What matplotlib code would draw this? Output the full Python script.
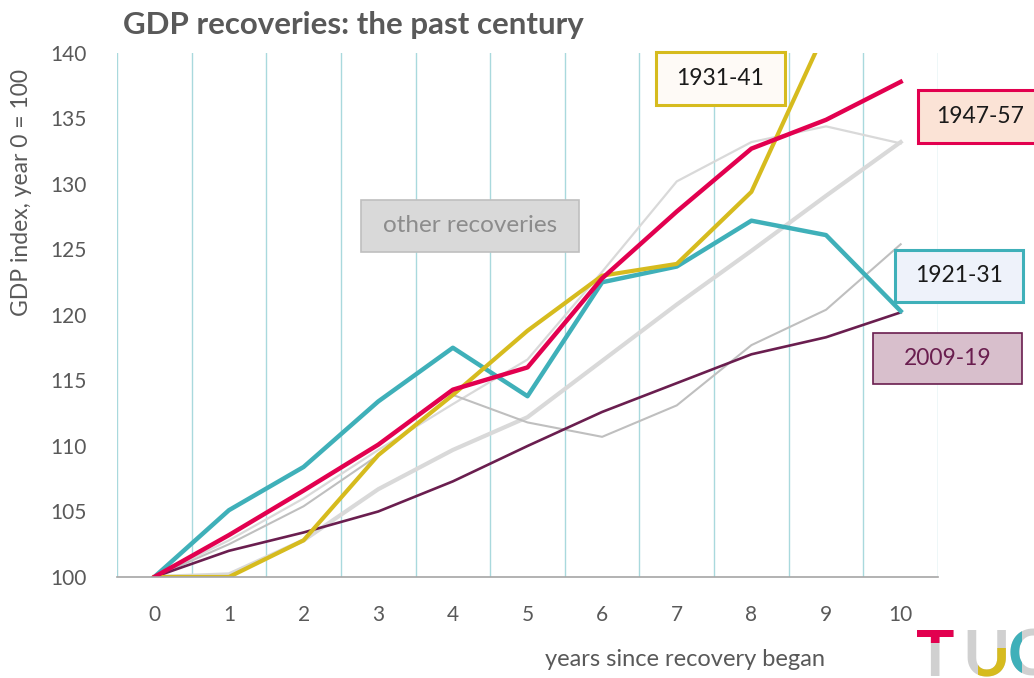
import matplotlib
matplotlib.use("Agg")
import matplotlib.pyplot as plt
from matplotlib.patches import Rectangle

plt.rcParams['font.family'] = ['Lato', 'DejaVu Sans']

# -----------------------------
# data (GDP index, year 0 = 100)
# -----------------------------
years = list(range(11))
r1921_31 = [100, 105.1, 108.4, 113.4, 117.5, 113.8, 122.5, 123.7, 127.2, 126.1, 120.3]
r1931_41 = [100, 100.0, 102.8, 109.3, 113.9, 118.8, 123.0, 123.9, 129.4, 141.8, 152.0]
r1947_57 = [100, 103.2, 106.6, 110.1, 114.3, 116.0, 122.8, 127.9, 132.7, 134.9, 137.8]
r2009_19 = [100, 102.0, 103.4, 105.0, 107.3, 110.0, 112.6, 114.8, 117.0, 118.3, 120.2]
other_a = [100, 102.5, 105.4, 109.3, 113.9, 111.8, 110.7, 113.1, 117.7, 120.4, 125.4]
other_b = [100, 100.2, 102.8, 106.7, 109.7, 112.2, 116.5, 120.8, 124.9, 129.1, 133.2]
other_c = [100, 102.8, 106.0, 109.7, 113.2, 116.6, 123.3, 130.2, 133.2, 134.4, 133.1]

W, H = 1034, 678
fig = plt.figure(figsize=(W / 100, H / 100), dpi=100)
ax = fig.add_axes([117 / W, 1 - 577 / H, (938 - 117) / W, (577 - 53) / H])

TEXT = '#595959'
TEAL = '#3FB0B9'
RED = '#E2004F'
YELLOW = '#D6BB1E'
PURPLE = '#6A1E4F'

# vertical grid lines between the year categories
for g in [i - 0.5 for i in range(12)]:
    ax.axvline(g, color='#A9D9DD', lw=1.0, zorder=0)

ax.plot(years, other_b, color='#D9D9D9', lw=3.0, zorder=2)
ax.plot(years, other_c, color='#D9D9D9', lw=1.6, zorder=2)
ax.plot(years, other_a, color='#BFBFBF', lw=1.5, zorder=2)
ax.plot(years, r2009_19, color=PURPLE, lw=1.9, zorder=3)
ax.plot(years, r1921_31, color=TEAL, lw=3.2, zorder=4)
ax.plot(years, r1931_41, color=YELLOW, lw=3.0, zorder=4)
ax.plot(years, r1947_57, color=RED, lw=3.2, zorder=5)

ax.set_xlim(-0.5, 10.5)
ax.set_ylim(100, 140)
ax.set_xticks(years)
ax.set_yticks(range(100, 141, 5))
ax.tick_params(length=0, labelsize=15, labelcolor=TEXT)
ax.tick_params(axis='x', pad=20)
ax.tick_params(axis='y', pad=22)
for s in ['top', 'right', 'left']:
    ax.spines[s].set_visible(False)
ax.spines['bottom'].set_color('#A6A6A6')
ax.spines['bottom'].set_linewidth(1.2)
ax.spines['bottom'].set_zorder(6)

fig.text(0.1185, 1 - 25 / H, "GDP recoveries: the past century", fontsize=22.5,
         fontweight='bold', color=TEXT, va='center', ha='left')
fig.text(685 / W, 1 - 659 / H, "years since recovery began", fontsize=17,
         color=TEXT, ha='center', va='center')
fig.text(22 / W, 1 - 192 / H, "GDP index, year 0 = 100", fontsize=16.5,
         color=TEXT, ha='center', va='center', rotation=90)


# -----------------------------
# label boxes (pixel boxes, top-left origin)
# -----------------------------
def box(x0, y0, x1, y1, label, face, edge, lw, tcol, size=16.5):
    fig.patches.append(Rectangle((x0 / W, 1 - y1 / H), (x1 - x0) / W, (y1 - y0) / H,
                                 transform=fig.transFigure, facecolor=face,
                                 edgecolor=edge, lw=lw, zorder=10))
    fig.text((x0 + x1) / 2 / W, 1 - (y0 + y1) / 2 / H, label, fontsize=size,
             color=tcol, ha='center', va='center', zorder=11)


box(656, 52, 785, 105, "1931-41", '#FEFAF6', YELLOW, 2.2, '#1A1A1A')
box(918, 90, 1042, 143, "1947-57", '#FBE3D6', RED, 2.2, '#1A1A1A')
box(895, 250, 1023, 302, "1921-31", '#EEF2FA', TEAL, 2.2, '#1A1A1A')
box(873, 333, 1022, 384, "2009-19", '#D8BFCC', PURPLE, 1.2, PURPLE)
box(361, 200, 579, 252, "other recoveries", '#D9D9D9', '#BFBFBF', 1.2, '#8C8C8C', 17.5)

# -----------------------------
# TUC logo (bottom right)
# -----------------------------
LOGO_GRAY = '#D0D0D0'
letters = [("T", 916), ("U", 962), ("C", 1007)]
for letter, x in letters:
    fig.text(x / W, 1 - 676 / H, letter, fontsize=46, fontweight='bold',
             color=LOGO_GRAY, ha='left', va='baseline')

# coloured parts of the logo
accents = [("T", 916, RED, (905, 620, 962, 643)),
           ("U", 962, YELLOW, (978, 648, 1010, 690)),
           ("C", 1007, TEAL, (1000, 620, 1022, 690))]
for letter, x, col, (cx0, cy0, cx1, cy1) in accents:
    t = fig.text(x / W, 1 - 676 / H, letter, fontsize=46, fontweight='bold',
                 color=col, ha='left', va='baseline')
    clip = Rectangle((cx0 / W, 1 - cy1 / H), (cx1 - cx0) / W, (cy1 - cy0) / H,
                     transform=fig.transFigure)
    t.set_clip_path(clip)

fig.savefig("out.png", dpi=100)
